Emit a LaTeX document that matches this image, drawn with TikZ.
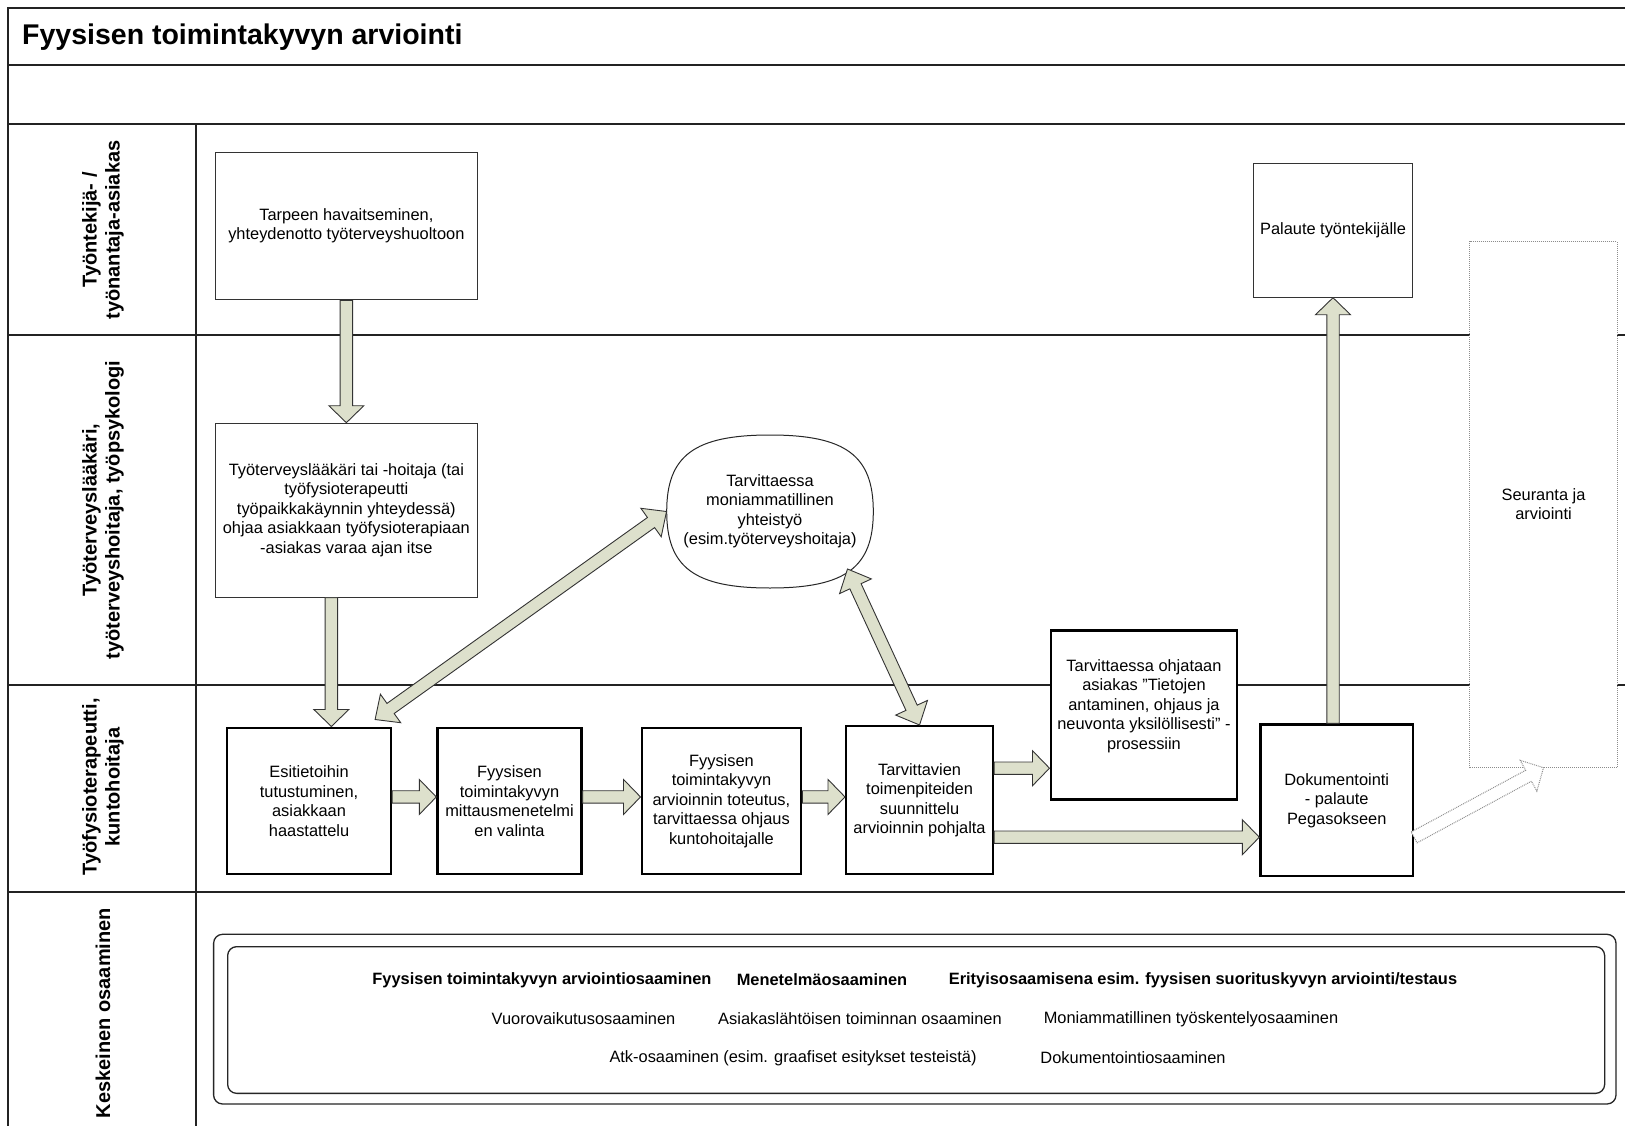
\documentclass[tikz,border=0pt]{standalone}
\usepackage{fontspec}
\setmainfont{Liberation Sans}
\usetikzlibrary{calc}

\definecolor{arrowfill}{RGB}{221,224,204}
\definecolor{frameline}{RGB}{35,35,35}
\newcommand{\bxfont}{\fontsize{16.4}{19.5}\selectfont}
\newcommand{\lanefont}{\fontsize{20}{23}\selectfont\bfseries}

% single fat arrow: #2 tail coordinate, #3 tip coordinate
\newcommand{\fatarrow}[3][]{%
  \coordinate (fah) at ($(#3)!17pt!(#2)$);
  \draw[fatstyle,#1] ($(#2)!6.2pt!90:(#3)$) -- ($(fah)!6.2pt!90:(#3)$) -- ($(fah)!17.5pt!90:(#3)$) -- (#3)
     -- ($(fah)!17.5pt!-90:(#3)$) -- ($(fah)!6.2pt!-90:(#3)$) -- ($(#2)!6.2pt!-90:(#3)$) -- cycle;
}
% double fat arrow
\newcommand{\dblarrow}[3][]{%
  \coordinate (dha) at ($(#2)!19pt!(#3)$);
  \coordinate (dhb) at ($(#3)!19pt!(#2)$);
  \draw[fatstyle,#1] (#2) -- ($(dha)!17.5pt!90:(#3)$) -- ($(dha)!6.2pt!90:(#3)$) -- ($(dhb)!6.2pt!90:(#3)$)
     -- ($(dhb)!17.5pt!90:(#3)$) -- (#3) -- ($(dhb)!17.5pt!-90:(#3)$) -- ($(dhb)!6.2pt!-90:(#3)$)
     -- ($(dha)!6.2pt!-90:(#3)$) -- ($(dha)!17.5pt!-90:(#3)$) -- cycle;
}

\tikzset{
  frame/.style={draw=frameline, line width=1.5pt},
  thinbox/.style={draw=black!80, line width=1pt, fill=white, inner sep=0pt, align=center, font=\bxfont, anchor=north west},
  thickbox/.style={draw=black, line width=2.4pt, fill=white, inner sep=0pt, align=center, font=\bxfont, anchor=north west},
  fatstyle/.style={draw=black!80, line width=0.9pt, fill=arrowfill, line join=miter},
  dotstyle/.style={draw=black!45, densely dotted, line width=1pt, fill=white},
  lanelbl/.style={font=\lanefont, align=center, rotate=90, inner sep=0pt},
  comptext/.style={font=\bxfont, inner sep=0pt},
  compbold/.style={font=\bxfont\bfseries, inner sep=0pt}
}

\begin{document}
\begin{tikzpicture}[x=1pt, y=-1pt]
\useasboundingbox (0,0) rectangle (1625,1126);
\fill[white] (0,0) rectangle (1625,1126);

% frame and lanes
\draw[frame] (1625,8) -- (8,8) -- (8,1130);
\draw[frame] (8,65) -- (1625,65);
\draw[frame] (8,124) -- (1625,124);
\draw[frame] (8,335) -- (1625,335);
\draw[frame] (8,685) -- (1625,685);
\draw[frame] (8,892) -- (1625,892);
\draw[frame] (196,124) -- (196,1130);

\node[anchor=west, font=\fontsize{28.5}{32}\selectfont\bfseries, inner sep=0pt] (title) at (22,37) {Fyysisen toimintakyvyn arviointi};

\node[lanelbl] (l1) at (103,230) {Työntekijä- /\\työnantaja-asiakas};
\node[lanelbl] (l2) at (103,510) {Työterveyslääkäri,\\työterveyshoitaja, työpsykologi};
\node[lanelbl] (l3) at (103,787) {Työfysioterapeutti,\\kuntohoitaja};
\node[lanelbl] (l4) at (103,1013) {Keskeinen osaaminen};

% boxes
\node[thinbox, minimum width=261.7pt, minimum height=147.6pt] (tarpeen) at (215,151.7) {Tarpeen havaitseminen,\\yhteydenotto työterveyshuoltoon};
\node[thinbox, minimum width=261.7pt, minimum height=174pt] (tyo) at (215,422.7) {Työterveyslääkäri tai -hoitaja (tai\\työfysioterapeutti\\työpaikkakäynnin yhteydessä)\\ohjaa asiakkaan työfysioterapiaan\\-asiakas varaa ajan itse};

% bubble (superellipse outline drawn around the named node)
\coordinate (ellc) at (770,511.5);
\fill[white, draw=black!85, line width=1pt, shift={(ellc)}]
  (-103.3,0) .. controls (-103.3,-56) and (-75.5,-76.5) .. (0,-76.5)
  .. controls (75.5,-76.5) and (103.3,-56) .. (103.3,0)
  .. controls (103.3,56) and (75.5,76.5) .. (0,76.5)
  .. controls (-75.5,76.5) and (-103.3,56) .. cycle;
\node[minimum width=206.6pt, minimum height=153pt, inner sep=0pt, align=center, font=\bxfont] (ell) at (ellc) {Tarvittaessa\\moniammatillinen\\yhteistyö\\(esim.työterveyshoitaja)};

\node[thickbox, minimum width=163.7pt, minimum height=146.5pt] (esi) at (226,726.5) {Esitietoihin\\tutustuminen,\\asiakkaan\\haastattelu};
\node[thickbox, minimum width=144pt, minimum height=146.5pt] (fyy) at (436.3,726.5) {Fyysisen\\toimintakyvyn\\mittausmenetelmi\\en valinta};
\node[thickbox, minimum width=159.5pt, minimum height=146.5pt] (tot) at (640.5,726.5) {Fyysisen\\toimintakyvyn\\arvioinnin toteutus,\\tarvittaessa ohjaus\\kuntohoitajalle};
\node[thickbox, minimum width=146.7pt, minimum height=148pt] (tarv) at (845,725) {Tarvittavien\\toimenpiteiden\\suunnittelu\\arvioinnin pohjalta};
\node[thickbox, minimum width=186.5pt, minimum height=169pt] (ohj) at (1049.5,629.3) {};
\node[font=\bxfont, align=center, inner sep=0pt] (ohjt) at ([yshift=9pt]ohj.center) {Tarvittaessa ohjataan\\asiakas ”Tietojen\\antaminen, ohjaus ja\\neuvonta yksilöllisesti” -\\prosessiin};
\node[thickbox, minimum width=152.4pt, minimum height=151.7pt] (dok) at (1259.3,723.3) {Dokumentointi\\- palaute\\Pegasokseen};
\node[thinbox, minimum width=158.4pt, minimum height=134pt] (pal) at (1253.3,162.7) {Palaute työntekijälle};
\node[dotstyle, inner sep=0pt, align=center, font=\bxfont, anchor=north west, minimum width=147.4pt, minimum height=525.7pt] (seur) at (1469.3,241) {Seuranta ja\\arviointi};

% competence box
\draw[draw=black!85, line width=1.3pt, rounded corners=9pt] (213.6,934.3) rectangle (1616,1104);
\node[draw=black!85, line width=1.3pt, rounded corners=9pt, anchor=north west, minimum width=1377pt, minimum height=146.7pt, inner sep=0pt] (comp) at (227,946) {};
\node[compbold] (c1) at (542,980) {Fyysisen toimintakyvyn arviointiosaaminen};
\node[compbold] (c2) at (822,980) {Menetelmäosaaminen};
\node[compbold] (c3) at (1203,980) {Erityisosaamisena esim. fyysisen suorituskyvyn arviointi/testaus};
\node[comptext] (c4) at (583.5,1019) {Vuorovaikutusosaaminen};
\node[comptext] (c5) at (860,1019) {Asiakaslähtöisen toiminnan osaaminen};
\node[comptext] (c6) at (1191,1019) {Moniammatillinen työskentelyosaaminen};
\node[comptext] (c7) at (793,1058) {Atk-osaaminen (esim. graafiset esitykset testeistä)};
\node[comptext] (c8) at (1133,1058) {Dokumentointiosaaminen};

% connector coordinates
\coordinate (a2s) at ([xshift=-15pt]tyo.south);
\coordinate (a2e) at (a2s |- esi.north);
\coordinate (a3s) at ([yshift=4pt]esi.east);
\coordinate (a3e) at ([yshift=4pt]fyy.west);
\coordinate (a4s) at ([yshift=4pt]fyy.east);
\coordinate (a4e) at ([yshift=4pt]tot.west);
\coordinate (a5s) at ([yshift=4pt]tot.east);
\coordinate (a5e) at (tarv.west |- a5s);
\coordinate (a6s) at ([yshift=32pt]tarv.east);
\coordinate (a6e) at (ohj.west |- a6s);
\coordinate (a7s) at ([yshift=-37pt]tarv.east);
\coordinate (a7e) at (dok.west |- a7s);
\coordinate (a8s) at (dok.north -| pal.south);
\coordinate (a9s) at ([yshift=-37pt]dok.east);
\coordinate (d1a) at ([shift={(-17,-7)}]esi.north east);
\coordinate (d2a) at ([shift={(77.5,57.5)}]ell.center);

% arrows
\fatarrow{tarpeen.south}{tyo.north}
\fatarrow{a2s}{a2e}
\fatarrow{a3s}{a3e}
\fatarrow{a4s}{a4e}
\fatarrow{a5s}{a5e}
\fatarrow{a6s}{a6e}
\fatarrow{a7s}{a7e}
\fatarrow{a8s}{pal.south}
\fatarrow[dotstyle]{a9s}{seur.south}
\dblarrow{d1a}{ell.west}
\dblarrow{d2a}{tarv.north}
\end{tikzpicture}
\end{document}
